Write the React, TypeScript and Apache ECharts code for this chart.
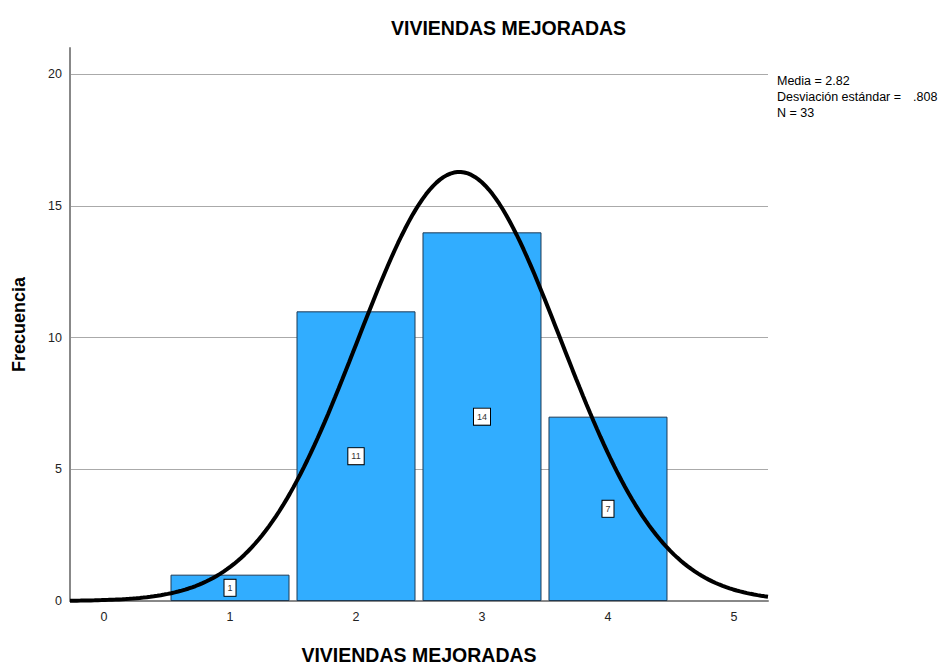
import React, { useEffect, useRef } from "react";
import * as echarts from "echarts";

const categories = [1, 2, 3, 4];
const frequencies = [1, 11, 14, 7];
const xTicks = [0, 1, 2, 3, 4, 5];
const yTicks = [0, 5, 10, 15, 20];
const mean = 2.82;
const sd = 0.808;
const n = 33;
const binWidth = 1;
const xMin = -0.27;
const xMax = 5.27;

function normalCurve(): number[][] {
  const pts: number[][] = [];
  const k = (n * binWidth) / (sd * Math.sqrt(2 * Math.PI));
  const steps = 200;
  for (let i = 0; i <= steps; i++) {
    const x = xMin + ((xMax - xMin) * i) / steps;
    const z = (x - mean) / sd;
    pts.push([x, k * Math.exp(-0.5 * z * z)]);
  }
  return pts;
}

const FONT = "'Liberation Sans', Arial, sans-serif";

export default function App() {
  const ref = useRef<HTMLDivElement>(null);
  useEffect(() => {
    if (!ref.current) return;
    const chart = echarts.init(ref.current, undefined, { renderer: "svg" });
    chart.setOption({
      animation: false,
      backgroundColor: "#ffffff",
      textStyle: { fontFamily: FONT },
      title: {
        text: "VIVIENDAS MEJORADAS",
        left: 386,
        top: 13,
        textStyle: { fontSize: 19.5, fontWeight: "bold", color: "#000", fontFamily: FONT },
      },
      grid: {
        left: 70,
        right: 171,
        top: 48,
        bottom: 63,
        containLabel: false,
        outerBoundsMode: "none",
      },
      xAxis: {
        type: "value",
        min: xMin,
        max: xMax,
        name: "VIVIENDAS MEJORADAS",
        nameLocation: "middle",
        nameGap: 45,
        nameTextStyle: {
          fontSize: 19.5,
          lineHeight: 17,
          fontWeight: "bold",
          color: "#000",
          fontFamily: FONT,
        },
        axisLine: { show: true, onZero: false, lineStyle: { color: "#888", width: 2 } },
        axisTick: { show: false },
        splitLine: { show: false },
        axisLabel: {
          customValues: xTicks,
          fontSize: 12.5,
          color: "#222",
          margin: 9,
          fontFamily: FONT,
        },
      },
      yAxis: {
        type: "value",
        min: 0,
        max: 21,
        interval: 5,
        name: "Frecuencia",
        nameLocation: "middle",
        nameGap: 42,
        nameRotate: 90,
        nameTextStyle: { fontSize: 18, fontWeight: "bold", color: "#000", fontFamily: FONT },
        axisLine: { show: true, onZero: false, lineStyle: { color: "#888", width: 2 } },
        axisTick: { show: false },
        axisLabel: {
          customValues: yTicks,
          fontSize: 12.5,
          color: "#222",
          margin: 8,
          fontFamily: FONT,
        },
        splitLine: {
          show: true,
          showMinLine: false,
          showMaxLine: false,
          lineStyle: { color: "#aaa", width: 1 },
        },
      },
      series: [
        {
          type: "bar",
          data: categories.map((c, i) => [c, frequencies[i]]),
          barWidth: 119,
          itemStyle: { color: "#31adff", borderColor: "#1d3a55", borderWidth: 1 },
          label: {
            show: true,
            position: "inside",
            fontSize: 9,
            color: "#333",
            backgroundColor: "#fff",
            borderColor: "#000",
            borderWidth: 1,
            padding: [4, 3, 3, 3],
            fontFamily: FONT,
            formatter: (p: any) => String(p.value[1]),
          },
          z: 2,
        },
        {
          type: "line",
          data: normalCurve(),
          showSymbol: false,
          smooth: false,
          lineStyle: { color: "#000", width: 4 },
          z: 3,
          silent: true,
        },
      ],
      graphic: [
        {
          type: "text",
          left: 777,
          top: 74,
          style: { text: "Media = 2.82", fontSize: 12.5, fill: "#000", fontFamily: FONT },
        },
        {
          type: "text",
          left: 777,
          top: 90,
          style: { text: "Desviación estándar =", fontSize: 12.5, fill: "#000", fontFamily: FONT },
        },
        {
          type: "text",
          left: 913,
          top: 90,
          style: { text: ".808", fontSize: 12.5, fill: "#000", fontFamily: FONT },
        },
        {
          type: "text",
          left: 777,
          top: 106,
          style: { text: "N = 33", fontSize: 12.5, fill: "#000", fontFamily: FONT },
        },
      ],
    });
    return () => chart.dispose();
  }, []);
  return (
    <div
      ref={ref}
      style={{ position: "absolute", left: 0, top: 0, width: 939, height: 664 }}
    />
  );
}
